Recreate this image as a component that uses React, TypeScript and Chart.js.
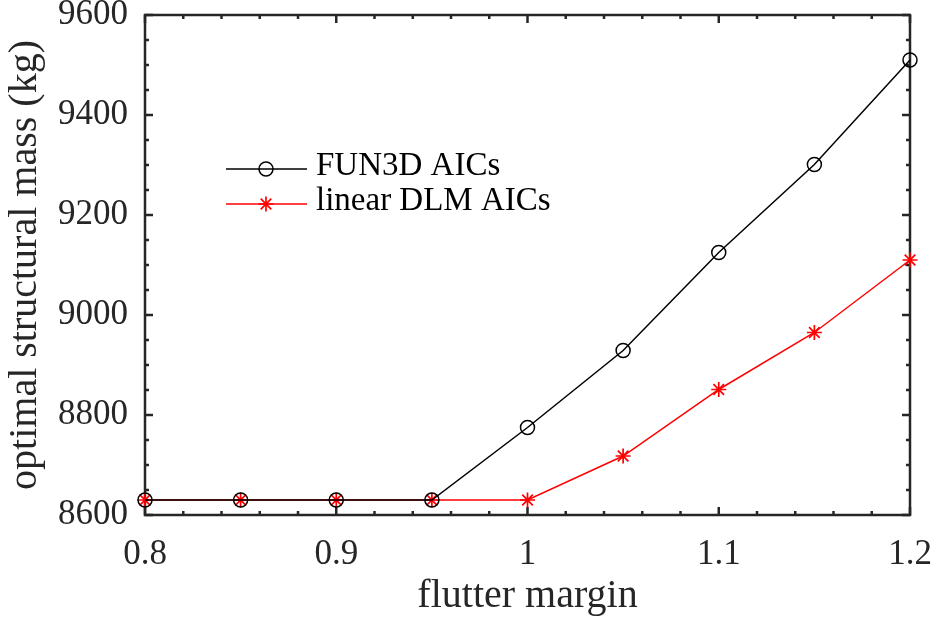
import React, { useEffect, useRef } from "react";
import { Chart, registerables } from "chart.js";

Chart.register(...registerables);

const flutterMargin = [0.8, 0.85, 0.9, 0.95, 1.0, 1.05, 1.1, 1.15, 1.2];
const fun3dMass = [8630, 8630, 8630, 8630, 8775, 8929, 9125, 9301, 9510];
const dlmMass = [8630, 8630, 8630, 8630, 8630, 8718, 8851, 8965, 9110];
const seriesNames = ["FUN3D AICs", "linear DLM AICs"];
const xTitle = "flutter margin";
const yTitle = "optimal structural mass (kg)";

const FONT = '"Liberation Serif", serif';
const AXIS = "#262626";

Chart.defaults.font.family = FONT;

const boxPlugin = {
  id: "matlabBox",
  beforeDatasetsDraw(chart: any) {
    const { ctx, chartArea: a, scales } = chart;
    const xs = scales.x;
    const ys = scales.y;
    ctx.save();
    ctx.strokeStyle = AXIS;
    ctx.lineWidth = 2.5;
    ctx.lineCap = "butt";
    const major = 8;
    const minor = 4;
    const drawX = (v: number, len: number) => {
      const px = xs.getPixelForValue(v);
      ctx.beginPath();
      ctx.moveTo(px, a.bottom);
      ctx.lineTo(px, a.bottom - len);
      ctx.moveTo(px, a.top);
      ctx.lineTo(px, a.top + len);
      ctx.stroke();
    };
    const drawY = (v: number, len: number) => {
      const py = ys.getPixelForValue(v);
      ctx.beginPath();
      ctx.moveTo(a.left, py);
      ctx.lineTo(a.left + len, py);
      ctx.moveTo(a.right, py);
      ctx.lineTo(a.right - len, py);
      ctx.stroke();
    };
    for (let i = 0; i <= 20; i++) {
      const v = xs.min + (i * (xs.max - xs.min)) / 20;
      drawX(v, i % 5 === 0 ? major : minor);
    }
    for (let i = 0; i <= 20; i++) {
      const v = ys.min + (i * (ys.max - ys.min)) / 20;
      drawY(v, i % 4 === 0 ? major : minor);
    }
    ctx.lineJoin = "miter";
    ctx.strokeRect(a.left, a.top, a.right - a.left, a.bottom - a.top);
    ctx.restore();
  },
  afterDatasetsDraw(chart: any) {
    const { ctx } = chart;
    const rows = [
      { ds: chart.data.datasets[0], y: 169, ty: 166 },
      { ds: chart.data.datasets[1], y: 204, ty: 201 },
    ];
    ctx.save();
    rows.forEach((r) => {
      ctx.strokeStyle = r.ds.borderColor;
      ctx.lineWidth = r.ds.borderWidth;
      ctx.beginPath();
      ctx.moveTo(226, r.y);
      ctx.lineTo(307, r.y);
      ctx.stroke();
      ctx.lineWidth = r.ds.pointBorderWidth;
      ctx.strokeStyle = r.ds.pointBorderColor;
      const rad = r.ds.pointRadius;
      const cx = 266;
      if (r.ds.pointStyle === "circle") {
        ctx.beginPath();
        ctx.arc(cx, r.y, rad, 0, Math.PI * 2);
        ctx.stroke();
      } else {
        ctx.beginPath();
        for (let k = 0; k < 4; k++) {
          const ang = (k * Math.PI) / 4;
          ctx.moveTo(cx - Math.cos(ang) * rad, r.y - Math.sin(ang) * rad);
          ctx.lineTo(cx + Math.cos(ang) * rad, r.y + Math.sin(ang) * rad);
        }
        ctx.stroke();
      }
      ctx.fillStyle = "#000";
      ctx.font = `33px ${FONT}`;
      ctx.textBaseline = "middle";
      ctx.textAlign = "left";
      ctx.fillText(r.ds.label, 316, r.ty);
    });
    ctx.restore();
  },
};

export default function App() {
  const ref = useRef<HTMLCanvasElement | null>(null);
  useEffect(() => {
    document.body.style.margin = "0";
    const chart = new Chart(ref.current!, {
      type: "line",
      data: {
        datasets: [
          {
            label: seriesNames[0],
            data: flutterMargin.map((x, i) => ({ x, y: fun3dMass[i] })),
            borderColor: "#000000",
            borderWidth: 1.5,
            pointStyle: "circle",
            pointRadius: 7,
            pointBorderWidth: 1.5,
            pointBorderColor: "#000000",
            pointBackgroundColor: "rgba(0,0,0,0)",
            tension: 0,
            clip: false as any,
          },
          {
            label: seriesNames[1],
            data: flutterMargin.map((x, i) => ({ x, y: dlmMass[i] })),
            borderColor: "#ff0000",
            borderWidth: 1.5,
            pointStyle: "star",
            pointRadius: 7.5,
            pointBorderWidth: 1.7,
            pointBorderColor: "#ff0000",
            pointBackgroundColor: "rgba(0,0,0,0)",
            tension: 0,
            clip: false as any,
          },
        ],
      },
      options: {
        animation: false,
        responsive: false,
        events: [],
        layout: { padding: { top: 15, right: 24, left: 0, bottom: 0 } },
        plugins: { legend: { display: false }, tooltip: { enabled: false } },
        scales: {
          x: {
            type: "linear",
            min: 0.8,
            max: 1.2,
            grid: { display: false, drawTicks: false },
            border: { display: false },
            ticks: {
              stepSize: 0.1,
              padding: 19,
              color: AXIS,
              font: { family: FONT, size: 35 },
              maxRotation: 0,
              callback: (v: any) => String(Number(Number(v).toFixed(2))),
            },
            title: {
              display: true,
              text: xTitle,
              color: AXIS,
              font: { family: FONT, size: 40 },
              padding: { top: 0, bottom: 1 },
            },
            afterFit: (s: any) => {
              s.height = 106;
              s.paddingLeft = 0;
              s.paddingRight = 0;
            },
          },
          y: {
            min: 8600,
            max: 9600,
            grid: { display: false, drawTicks: false },
            border: { display: false },
            ticks: {
              stepSize: 200,
              padding: 17,
              color: AXIS,
              font: { family: FONT, size: 35 },
              callback: (v: any) => String(v),
            },
            title: {
              display: true,
              text: yTitle,
              color: AXIS,
              font: { family: FONT, size: 40 },
              padding: { top: 1, bottom: 0 },
            },
            afterFit: (s: any) => {
              s.width = 145;
              s.paddingTop = 0;
              s.paddingBottom = 0;
            },
          },
        },
      },
      plugins: [boxPlugin],
    });
    return () => chart.destroy();
  }, []);
  return (
    <div style={{ position: "absolute", left: 0, top: 0, width: 934, height: 621, background: "#fff" }}>
      <canvas ref={ref} width={934} height={621} style={{ display: "block" }} />
    </div>
  );
}
